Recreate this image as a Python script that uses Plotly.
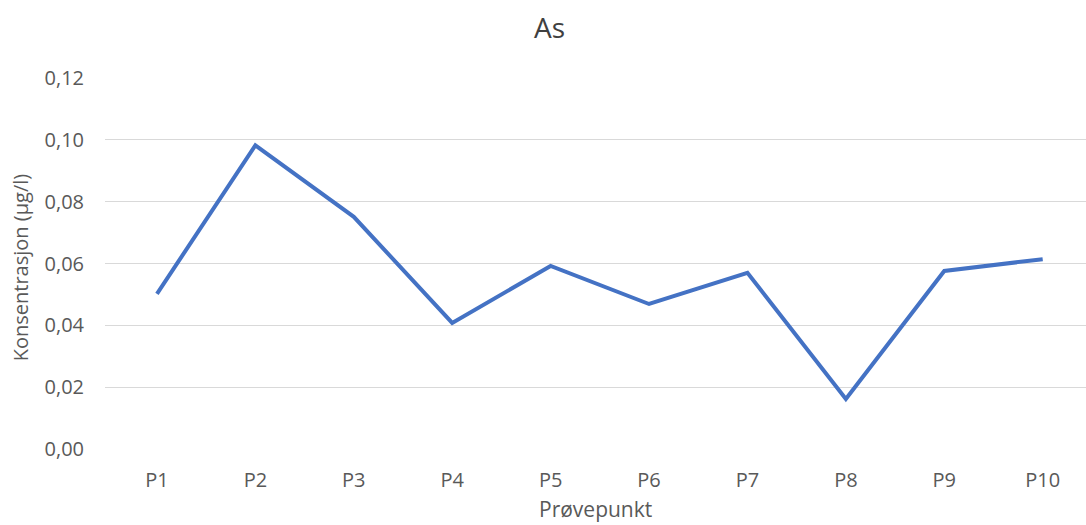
import plotly.graph_objects as go

# Arsenic concentration per sampling point
punkter = ["P1", "P2", "P3", "P4", "P5", "P6", "P7", "P8", "P9", "P10"]
as_verdier = [0.0502, 0.0982, 0.0751, 0.0408, 0.0592, 0.0469, 0.0570, 0.0162, 0.0576, 0.0614]
y_ticks = [0.00, 0.02, 0.04, 0.06, 0.08, 0.10, 0.12]

tekstfarge = "#595959"
font_familie = "Open Sans, Liberation Sans, sans-serif"

fig = go.Figure(
    go.Scatter(
        x=list(range(len(punkter))),
        y=as_verdier,
        mode="lines",
        line=dict(color="#4472C4", width=4),
        hoverinfo="skip",
    )
)

fig.update_layout(
    width=1086,
    height=525,
    paper_bgcolor="white",
    plot_bgcolor="white",
    separators=",.",
    margin=dict(l=105, r=0, t=78, b=76),
    showlegend=False,
    font=dict(family=font_familie, color=tekstfarge, size=20),
    title=dict(
        text="As",
        x=0.506,
        xanchor="center",
        y=0.947,
        yanchor="middle",
        font=dict(size=28, color="#404040", family=font_familie),
    ),
    annotations=[
        dict(
            text="Prøvepunkt",
            xref="paper", yref="paper",
            x=0.5, y=-0.163,
            xanchor="center", yanchor="middle",
            showarrow=False,
            font=dict(size=21, color=tekstfarge),
        ),
        dict(
            text="Konsentrasjon (µg/l)",
            xref="paper", yref="paper",
            x=-0.0866, y=0.49,
            xanchor="center", yanchor="middle",
            textangle=-90,
            showarrow=False,
            font=dict(size=20, color=tekstfarge),
        ),
    ],
)

fig.update_xaxes(
    tickmode="array",
    tickvals=list(range(len(punkter))),
    ticktext=punkter,
    range=[-0.528, 9.44],
    showgrid=False,
    zeroline=False,
    showline=False,
    ticks="",
    ticklabelstandoff=17,
    tickfont=dict(size=20, color=tekstfarge),
)

fig.update_yaxes(
    range=[0, 0.12],
    tickmode="array",
    tickvals=y_ticks,
    tickformat=".2f",
    showgrid=True,
    gridcolor="#D9D9D9",
    gridwidth=1,
    zeroline=False,
    showline=False,
    ticks="",
    ticklabelstandoff=20,
    tickfont=dict(size=20, color=tekstfarge),
)

fig.write_html("out.html")
